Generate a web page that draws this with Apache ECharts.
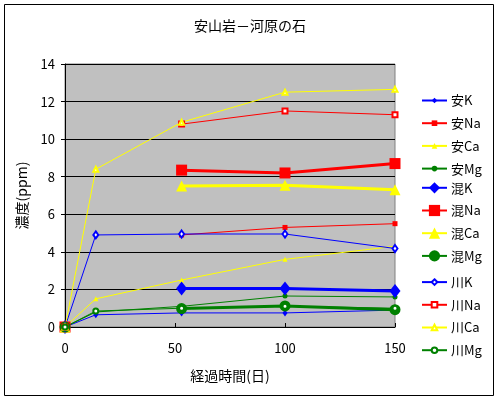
<!DOCTYPE html>
<html>
<head>
<meta charset="utf-8">
<script src="https://cdn.jsdelivr.net/npm/echarts@6/dist/echarts.min.js"></script>
<style>
  html, body { margin: 0; padding: 0; background: #fff; }
  #chart { width: 500px; height: 400px; }
</style>
</head>
<body>
<div id="chart"></div>
<script>
// 経過時間(日)
const days = [0, 14, 53, 100, 150]

// 安 = 安山岩, 混 = 混合, 川 = 河原の石  (null = 欠測)
const anK  = [0, 0.65, 0.75, 0.75, 0.9]
const anNa = [0, null, 4.9, 5.3, 5.5]
const anCa = [0, 1.5, 2.5, 3.6, 4.3]
const anMg = [0, 0.8, 1.1, 1.65, 1.6]
const konK  = [0, null, 2.05, 2.05, 1.92]
const konNa = [0, null, 8.35, 8.2, 8.7]
const konCa = [0, null, 7.5, 7.55, 7.3]
const konMg = [0, null, 0.98, 1.12, 0.92]
const kawaK  = [0, 4.9, 4.95, 4.95, 4.18]
const kawaNa = [0, null, 10.8, 11.5, 11.3]
const kawaCa = [0, 8.4, 10.9, 12.5, 12.65]
const kawaMg = [0, 0.85, 1.0, 1.1, 1.0]

const yTicks = [0, 2, 4, 6, 8, 10, 12, 14]
const xTicks = [0, 50, 100, 150]

const BLUE = '#0000ff', RED = '#ff0000', YELLOW = '#ffff00', GREEN = '#008000'
const FONT = '"Noto Sans CJK JP", sans-serif'

function pts(vals) {
  return days.map((d, i) => [d, vals[i]])
}

// kind: 'small' 塗り小, 'big' 塗り大, 'hollow' 中抜き小
function mk(name, vals, color, symbol, kind) {
  const big = kind === 'big'
  return {
    name,
    type: 'line',
    data: pts(vals),
    connectNulls: false,
    symbol: kind === 'hollow' ? 'empty' + symbol[0].toUpperCase() + symbol.slice(1) : symbol,
    symbolSize: big ? (symbol === 'diamond' ? [11, 14] : 11) : (symbol === 'diamond' ? [5, 7] : 5),
    showAllSymbol: true,
    lineStyle: { color, width: big ? 3 : 1 },
    itemStyle: { color, borderColor: color, borderWidth: kind === 'hollow' ? 1 : 0 },
    emphasis: { disabled: true },
    animation: false,
  }
}

const series = [
  mk('安K', anK, BLUE, 'diamond', 'small'),
  mk('安Na', anNa, RED, 'rect', 'small'),
  mk('安Ca', anCa, YELLOW, 'triangle', 'small'),
  mk('安Mg', anMg, GREEN, 'circle', 'small'),
  mk('混K', konK, BLUE, 'diamond', 'big'),
  mk('混Na', konNa, RED, 'rect', 'big'),
  mk('混Ca', konCa, YELLOW, 'triangle', 'big'),
  mk('混Mg', konMg, GREEN, 'circle', 'big'),
  mk('川K', kawaK, BLUE, 'diamond', 'hollow'),
  mk('川Na', kawaNa, RED, 'rect', 'hollow'),
  mk('川Ca', kawaCa, YELLOW, 'triangle', 'hollow'),
  mk('川Mg', kawaMg, GREEN, 'circle', 'hollow'),
]

// 凡例は記号の大きさを変えるため3つに分ける (1行 ≈ 22.7px)
const ROW = 22.7
function legendGroup(names, firstRow, iconH) {
  return {
    orient: 'vertical',
    left: 421,
    top: 90 + firstRow * ROW + (14 - iconH) / 2,
    padding: 0,
    itemWidth: 25,
    itemHeight: iconH,
    itemGap: ROW - 14,
    textStyle: { fontFamily: FONT, fontSize: 13, lineHeight: 14, color: '#000', padding: [0, 0, 0, -1] },
    data: names,
  }
}

const chart = echarts.init(document.getElementById('chart'))
chart.setOption({
  backgroundColor: '#fff',
  animation: false,
  title: {
    text: '安山岩－河原の石',
    left: 'center',
    top: 14,
    textStyle: { fontFamily: FONT, fontSize: 14, fontWeight: 'normal', color: '#000' },
  },
  graphic: [{
    type: 'rect',
    shape: { x: 4.5, y: 4.5, width: 489, height: 391 },
    style: { fill: 'none', stroke: '#000', lineWidth: 1 },
    z: 100,
  }],
  legend: [
    legendGroup(['安K', '安Na', '安Ca', '安Mg'], 0, 7),
    legendGroup(['混K', '混Na', '混Ca', '混Mg'], 4, 14),
    legendGroup(['川K', '川Na', '川Ca', '川Mg'], 8, 7),
  ],
  grid: {
    left: 65,
    right: 105,
    top: 64,
    bottom: 73,
    show: true,
    backgroundColor: '#c0c0c0',
    borderColor: '#808080',
    borderWidth: 1,
  },
  xAxis: {
    type: 'value',
    min: xTicks[0],
    max: xTicks[xTicks.length - 1],
    interval: 50,
    name: '経過時間(日)',
    nameLocation: 'middle',
    nameGap: 42,
    nameTextStyle: { fontFamily: FONT, fontSize: 14, color: '#000' },
    axisLine: { onZero: false, lineStyle: { color: '#000' } },
    axisTick: { inside: true, length: 4, lineStyle: { color: '#000' } },
    axisLabel: { fontFamily: FONT, fontSize: 13, color: '#000', margin: 15 },
    splitLine: { show: false },
  },
  yAxis: {
    type: 'value',
    min: yTicks[0],
    max: yTicks[yTicks.length - 1],
    interval: 2,
    name: '濃度(ppm)',
    nameLocation: 'middle',
    nameGap: 36,
    nameTextStyle: { fontFamily: FONT, fontSize: 14, color: '#000' },
    axisLine: { show: true, lineStyle: { color: '#000' } },
    axisTick: { show: true, length: 4, lineStyle: { color: '#000' } },
    axisLabel: { fontFamily: FONT, fontSize: 13, color: '#000', margin: 10 },
    splitLine: { show: true, lineStyle: { color: '#000', width: 1 } },
  },
  series,
})
</script>
</body>
</html>
